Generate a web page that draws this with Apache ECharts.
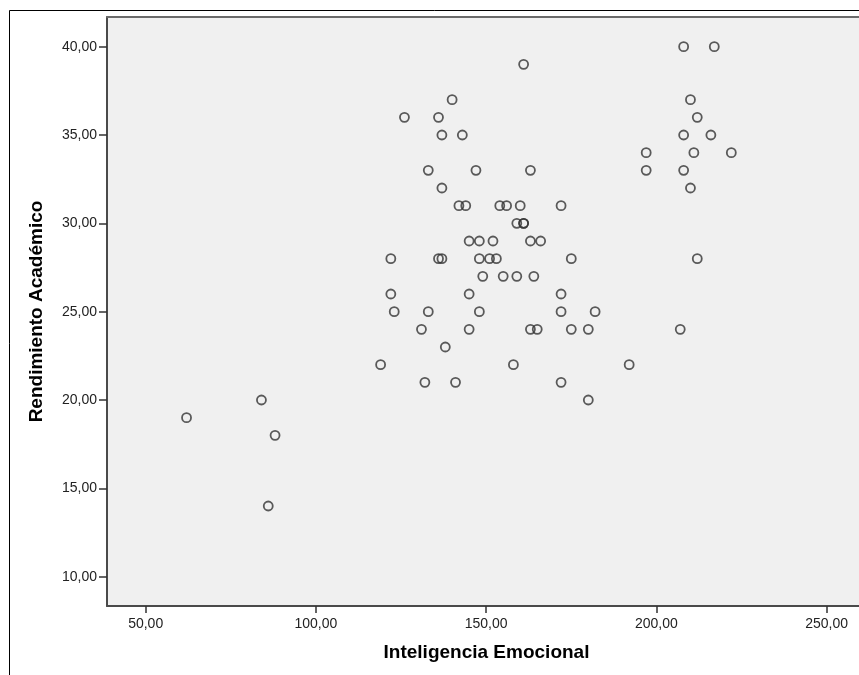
<!DOCTYPE html>
<html>
<head>
<meta charset="utf-8">
<script src="https://cdn.jsdelivr.net/npm/echarts@6/dist/echarts.min.js"></script>
<style>
html,body{margin:0;padding:0;background:#fff;overflow:hidden;}
#chart{width:859px;height:675px;}
</style>
</head>
<body>
<div id="chart"></div>
<script>
// Data
const inteligencia = [
  208,217,210,212,208,216,197,211,222,197,208,210,212,207,
  161,140,126,136,137,143,133,147,163,137,
  142,144,154,156,160,172,
  159,161,161,
  145,148,152,163,166,
  122,136,137,148,151,153,175,
  149,155,159,164,
  122,145,172,
  123,133,148,172,182,
  131,145,163,165,175,180,
  138,
  119,158,192,
  132,141,172,
  84,180,
  62,88,86
];
const rendimiento = [
  40,40,37,36,35,35,34,34,34,33,33,32,28,24,
  39,37,36,36,35,35,33,33,33,32,
  31,31,31,31,31,31,
  30,30,30,
  29,29,29,29,29,
  28,28,28,28,28,28,28,
  27,27,27,27,
  26,26,26,
  25,25,25,25,25,
  24,24,24,24,24,24,
  23,
  22,22,22,
  21,21,21,
  20,20,
  19,18,14
];
const xTicks = [50, 100, 150, 200, 250];
const yTicks = [10, 15, 20, 25, 30, 35, 40];
const xTitle = 'Inteligencia Emocional';
const yTitle = 'Rendimiento Académico';

const points = inteligencia.map((v, i) => [v, rendimiento[i]]);
const fmt = v => Number(v).toFixed(2).replace('.', ',');
const FONT = '"Liberation Sans", Arial, sans-serif';
const X_MIN = 38.64, X_MAX = 259.5;

const chart = echarts.init(document.getElementById('chart'), null, {renderer: 'canvas'});
chart.setOption({
  animation: false,
  backgroundColor: '#ffffff',
  grid: {
    left: 107, right: 0, top: 17, bottom: 69,
    show: true, backgroundColor: '#f0f0f0', borderWidth: 0
  },
  xAxis: [{
    type: 'value', min: X_MIN, max: X_MAX, position: 'bottom',
    name: xTitle, nameLocation: 'middle', nameGap: 37,
    nameTextStyle: {fontFamily: FONT, fontSize: 19, fontWeight: 'bold', color: '#000', padding: [0, 0, 0, 7]},
    axisLine: {show: true, onZero: false, lineStyle: {color: '#4a4a4a', width: 2}},
    axisTick: {show: true, length: 7, customValues: xTicks, lineStyle: {color: '#333', width: 1.5}},
    axisLabel: {customValues: xTicks, formatter: fmt, margin: 11, fontFamily: FONT, fontSize: 14, color: '#222'},
    splitLine: {show: false}
  }, {
    type: 'value', min: X_MIN, max: X_MAX, position: 'top',
    axisLine: {show: true, onZero: false, lineStyle: {color: '#6a6a6a', width: 2}},
    axisTick: {show: false}, axisLabel: {show: false}, splitLine: {show: false}
  }],
  yAxis: {
    type: 'value', min: 8.34, max: 41.68,
    name: yTitle, nameLocation: 'middle', nameGap: 61,
    nameTextStyle: {fontFamily: FONT, fontSize: 19, fontWeight: 'bold', color: '#000'},
    axisLine: {show: true, onZero: false, lineStyle: {color: '#4a4a4a', width: 2}},
    axisTick: {show: true, length: 8, customValues: yTicks, lineStyle: {color: '#333', width: 1.5}},
    axisLabel: {customValues: yTicks, formatter: fmt, margin: 10, fontFamily: FONT, fontSize: 14, color: '#222'},
    splitLine: {show: false}
  },
  graphic: [{
    type: 'rect', silent: true, z: 100,
    shape: {x: 9.5, y: 10.5, width: 1000, height: 1000},
    style: {fill: 'none', stroke: '#000', lineWidth: 1}
  }],
  series: [{
    type: 'scatter',
    xAxisIndex: 0,
    data: points,
    symbol: 'circle',
    symbolSize: 9,
    itemStyle: {color: 'rgba(0,0,0,0)', borderColor: '#333', borderWidth: 1.8}
  }]
});
</script>
</body>
</html>
